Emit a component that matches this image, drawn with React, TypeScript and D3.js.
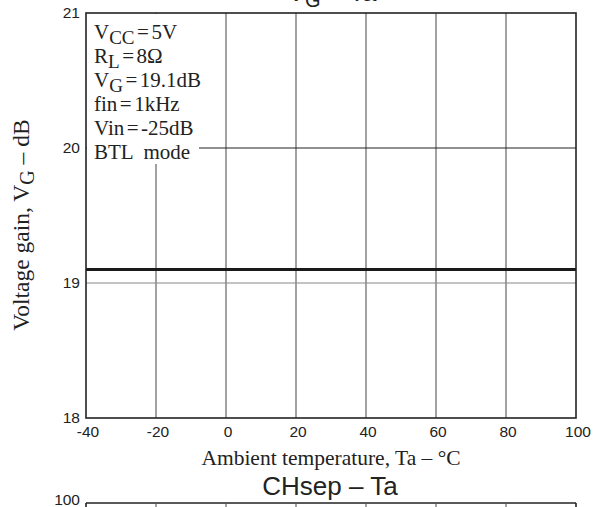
import React from "react";
import * as d3 from "d3";

const temps = [-40, -20, 0, 20, 40, 60, 80, 100];
const gainValues = [19.1, 19.1, 19.1, 19.1, 19.1, 19.1, 19.1, 19.1];
const xTicks = [-40, -20, 0, 20, 40, 60, 80, 100];
const yTicks = [18, 19, 20, 21];
const annoLines = [
  { main: "V", sub: "CC", rest: "5V" },
  { main: "R", sub: "L", rest: "8Ω" },
  { main: "V", sub: "G", rest: "19.1dB" },
  { main: "fin", sub: "", rest: "1kHz" },
  { main: "Vin", sub: "", rest: "-25dB" },
];

const W = 606;
const H = 507;
const serif = "'Liberation Serif', 'Times New Roman', serif";
const sans = "'Liberation Sans', Arial, sans-serif";

export default function App() {
  const x = d3.scaleLinear().domain([-40, 100]).range([86, 576]);
  const y = d3.scaleLinear().domain([18, 21]).range([418, 13]);
  const line = d3
    .line<number>()
    .x((_, i) => x(temps[i]))
    .y((d) => y(d));

  const y2Top = 503;

  return (
    <svg
      width={W}
      height={H}
      style={{ position: "absolute", left: 0, top: 0, background: "#fff" }}
    >
      <rect x={0} y={0} width={W} height={H} fill="#fff" />
      {/* title 1 (clipped at top) */}
      <text x={332} y={1} textAnchor="middle" fontFamily={sans} fontSize={26} fill="#222">
        V<tspan fontSize={20} dy={6}>G</tspan>
        <tspan dy={-6}> – Ta</tspan>
      </text>

      {/* gridlines */}
      {xTicks.slice(1, -1).map((t) => (
        <line key={"vx" + t} x1={x(t)} x2={x(t)} y1={y(21)} y2={y(18)} stroke="#555" strokeWidth={1.1} />
      ))}
      {yTicks.slice(1, -1).map((t) => (
        <line key={"hy" + t} x1={x(-40)} x2={x(100)} y1={y(t)} y2={y(t)} stroke={t === 20 ? "#222" : "#888"} strokeWidth={1.1} />
      ))}

      {/* annotation box */}
      <rect x={87} y={14} width={112} height={150} fill="#fff" />
      <g fontFamily={serif} fontSize={21} fill="#222">
        {annoLines.map((l, i) => (
          <text key={i} x={94} y={39 + i * 24}>
            {l.main}
            {l.sub ? (
              <tspan fontSize={19} dy={5}>
                {l.sub}
              </tspan>
            ) : null}
            <tspan dy={l.sub ? -5 : 0} dx={2.5}>=</tspan>
            <tspan dx={2.5}>{l.rest}</tspan>
          </text>
        ))}
        <text x={94} y={159} style={{ whiteSpace: "pre" }}>BTL  mode</text>
      </g>

      {/* data line */}
      <path d={line(gainValues) || ""} fill="none" stroke="#1a1a1a" strokeWidth={3} />

      {/* frame */}
      <rect x={x(-40)} y={y(21)} width={x(100) - x(-40)} height={y(18) - y(21)} fill="none" stroke="#222" strokeWidth={1.6} />

      {/* tick labels */}
      <g fontFamily={sans} fontSize={15.5} fill="#222">
        {yTicks.map((t) => (
          <text key={"yl" + t} x={80} y={y(t)} dy="0.3em" textAnchor="end">
            {t}
          </text>
        ))}
        {xTicks.map((t) => (
          <text key={"xl" + t} x={x(t) + 2} y={437} textAnchor="middle">
            {t}
          </text>
        ))}
      </g>

      {/* axis titles */}
      <text x={331} y={465} textAnchor="middle" fontFamily={serif} fontSize={21.5} fill="#222">
        Ambient temperature, Ta – °C
      </text>
      <text
        transform={`translate(29, ${225}) rotate(-90)`}
        textAnchor="middle"
        fontFamily={serif}
        fontSize={23.5}
        fill="#222"
      >
        Voltage gain, V<tspan fontSize={20} dy={5}>G</tspan>
        <tspan dy={-5}> – dB</tspan>
      </text>

      {/* second chart title and top edge */}
      <text x={330} y={495} textAnchor="middle" fontFamily={sans} fontSize={26} fill="#222">
        CHsep – Ta
      </text>
      <line x1={x(-40)} x2={x(100)} y1={y2Top} y2={y2Top} stroke="#222" strokeWidth={1.6} />
      <line x1={x(-40)} x2={x(-40)} y1={y2Top} y2={H} stroke="#222" strokeWidth={1.6} />
      <line x1={x(100)} x2={x(100)} y1={y2Top} y2={H} stroke="#222" strokeWidth={1.6} />
      {xTicks.slice(1, -1).map((t) => (
        <line key={"v2" + t} x1={x(t)} x2={x(t)} y1={y2Top} y2={H} stroke="#555" strokeWidth={1.1} />
      ))}
      <text x={80} y={y2Top + 2} textAnchor="end" fontFamily={sans} fontSize={15.5} fill="#222">
        100
      </text>
    </svg>
  );
}
